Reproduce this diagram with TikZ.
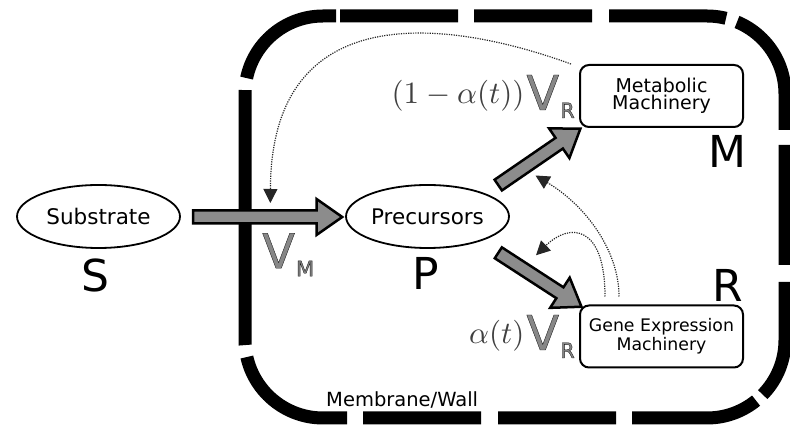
\documentclass[tikz,border=0pt]{standalone}
\usepackage[no-math]{fontspec}
\usepackage{graphicx}
\setmainfont{DejaVu Sans}
\usetikzlibrary{shapes.geometric,shapes.arrows,arrows.meta,calc}
\definecolor{arrgray}{RGB}{140,140,140}
\definecolor{vgray}{RGB}{135,135,135}
\newcommand\outl[1]{\special{pdf:code 2 Tr 0.35 w 0.1 G}#1\special{pdf:code 0 Tr 0.4 w}}
\newcommand\ratelbl[1]{{\color{black!75}\scalebox{3.1}{$#1$}}\kern2pt\raisebox{-6pt}{\color{vgray}\fontsize{48}{48}\selectfont\outl{V}\kern1pt\raisebox{-8pt}{\fontsize{21}{21}\selectfont\outl{R}}}}
\newcommand\ratelblM{\raisebox{0pt}{\color{vgray}\fontsize{48}{48}\selectfont\outl{V}\kern1pt\raisebox{-8pt}{\fontsize{21}{21}\selectfont\outl{M}}}}
\newcommand\blockarrow[3]{%
  \path let \p1=(#1), \p2=(#2), \n1={atan2(\y2-\y1,\x2-\x1)}, \n2={veclen(\x2-\x1,\y2-\y1)-1} in
    ($(\p1)!0.5!(\p2)$) node[blk, rotate=\n1, minimum height=\n2] (#3) {};}
\tikzset{
  oval/.style={ellipse, draw=black, line width=1.8pt, fill=white, minimum width=163pt, minimum height=63pt, inner sep=0pt, font=\fontsize{21.5}{24}\selectfont},
  mbox/.style={rectangle, rounded corners=9pt, draw=black, line width=2pt, fill=white, minimum width=163pt, minimum height=62pt, inner sep=0pt, align=center},
  biglbl/.style={anchor=base, inner sep=0pt, font=\fontsize{44}{44}\selectfont},
  blk/.style={single arrow, draw=black, line width=2.5pt, fill=arrgray, inner xsep=0pt, inner ysep=5.25pt, single arrow head extend=11.5pt, single arrow head indent=0pt, single arrow tip angle=70, minimum width=33.5pt},
  wall/.style={draw=black, line width=13pt, line cap=butt, dash pattern=on 13pt off 4pt on 118pt off 16pt on 118pt off 17pt on 117.2pt off 11.6pt on 127.7pt off 15pt on 120pt off 17pt on 118.5pt off 9pt on 128pt off 16pt on 118pt off 17pt on 118pt off 16pt on 129.4pt off 12.1pt on 255pt off 12.1pt on 120pt off 10pt},
  dotarrow/.style={draw=black!85, line width=1.2pt, dash pattern=on 1.2pt off 1.2pt, -{Triangle[length=14pt,width=14pt]}}
}
\begin{document}
\begin{tikzpicture}[x=1pt,y=-1pt]
\useasboundingbox (0,0) rectangle (790,427);
% membrane / wall
\draw[wall] (323,16) -- (707,16) arc[start angle=90, end angle=0, radius=78pt]
  -- (785,340) arc[start angle=0, end angle=-90, radius=78pt]
  -- (323,418) arc[start angle=-90, end angle=-180, radius=78pt]
  -- (245,94) arc[start angle=180, end angle=90, radius=78pt] -- cycle;
% nodes
\node[oval] (sub) at (98.5,216.5) {Substrate};
\node[oval] (pre) at (427.5,216.5) {Precursors};
\node[mbox, font=\fontsize{19}{17.5}\selectfont] (meta) at (661.5,96) {Metabolic\\Machinery};
\node[mbox, font=\fontsize{17.3}{19}\selectfont] (gene) at (661.5,336.5) {Gene Expression\\Machinery};
\node[biglbl] (lS) at (95,292) {S};
\node[biglbl] (lP) at (425.5,290) {P};
\node[biglbl] (lM) at (727.5,168) {M};
\node[biglbl] (lR) at (727.5,302) {R};
\node[anchor=base west, inner sep=0pt, font=\fontsize{19.5}{22}\selectfont] (wlbl) at (326,407) {Membrane/Wall};
% block arrow end points
\coordinate (aSt) at ($(sub.east)+(7,0.5)$);
\coordinate (aSh) at ($(pre.west)+(-7,0.5)$);
\coordinate (aMt) at ($(pre.center)+(66.5,-28.5)$);
\coordinate (aMh) at ($(meta.south west)+(-2,3)$);
\coordinate (aRt) at ($(pre.center)+(66.5,33.5)$);
\coordinate (aRh) at ($(gene.north west)+(-1,0)$);
% dotted feedback connectors
\coordinate (d1s) at ($(meta.north west)+(-8,0)$);
\coordinate (d1e) at ($(aSt)!0.549!(aSh)+(0,-14)$);
\coordinate (d2s) at ($(gene.north)+(-42.5,-8)$);
\coordinate (d2e) at ($(aMt)!0.5!(aMh)+(0,16)$);
\coordinate (d3s) at ($(gene.north)+(-56.5,-8)$);
\coordinate (d3e) at ($(aRt)!0.5!(aRh)+(0,-22)$);
\draw[dotarrow] (d1s) .. controls (450,20) and (271,-5) .. (d1e);
\draw[dotarrow] (d2s) .. controls (619,250) and (585,205) .. (d2e);
\draw[dotarrow] (d3s) .. controls (605,225) and (570,222) .. (d3e);
% block arrows
\blockarrow{aSt}{aSh}{arrS}
\blockarrow{aMt}{aMh}{arrM}
\blockarrow{aRt}{aRh}{arrR}
% rate labels
\node[anchor=north west, inner sep=0pt] (vM) at (262,233) {\ratelblM};
\node[anchor=base east, inner sep=0pt] (rM) at (575,104) {\ratelbl{(1-\alpha(t))}};
\node[anchor=base east, inner sep=0pt] (rR) at (575,344) {\ratelbl{\alpha(t)}};
\end{tikzpicture}
\end{document}
